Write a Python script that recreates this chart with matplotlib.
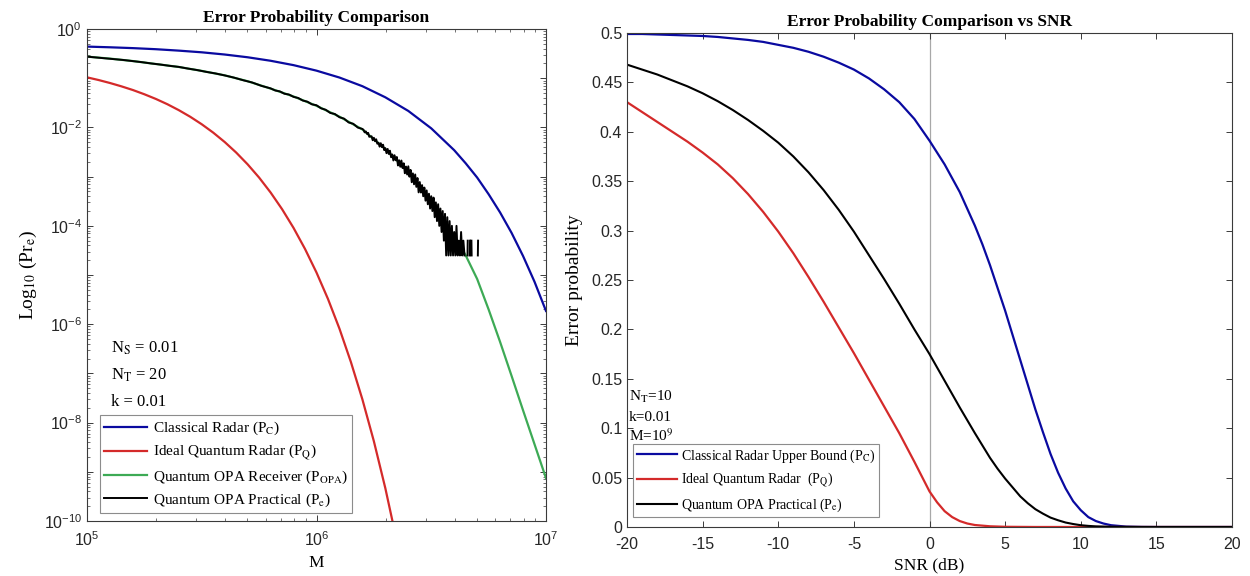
import numpy as np
import matplotlib
matplotlib.use("Agg")
import matplotlib.pyplot as plt
from matplotlib.ticker import LogLocator, NullFormatter, FixedLocator

plt.rcParams['mathtext.fontset'] = 'stix'
plt.rcParams['axes.unicode_minus'] = False
SERIF = 'Liberation Serif'
SANS = 'Liberation Sans'
nan = np.nan

# ---------------- left panel: log10(M) vs log10(P) ----------------
pc_m = [5.0, 5.1, 5.2, 5.3, 5.4, 5.5, 5.6, 5.7, 5.8, 5.9, 6.0, 6.1, 6.2, 6.3,
        6.4, 6.5, 6.6, 6.65, 6.7, 6.75, 6.8, 6.85, 6.9, 6.95, 7.0]
pc_log = [-0.356, -0.370, -0.387, -0.409, -0.438, -0.472, -0.517, -0.573, -0.644,
          -0.733, -0.845, -0.985, -1.161, -1.387, -1.664, -2.018, -2.462, -2.728,
          -3.018, -3.357, -3.728, -4.143, -4.613, -5.137, -5.730]

pq_m = [5.0, 5.05, 5.1, 5.15, 5.2, 5.25, 5.3, 5.35, 5.4, 5.45, 5.5, 5.55, 5.6,
        5.65, 5.7, 5.75, 5.8, 5.85, 5.9, 5.95, 6.0, 6.05, 6.1, 6.15, 6.2, 6.25,
        6.3, 6.35]
pq_log = [-0.981, -1.035, -1.096, -1.164, -1.239, -1.325, -1.420, -1.527, -1.648,
          -1.783, -1.935, -2.105, -2.296, -2.510, -2.750, -3.019, -3.322, -3.661,
          -4.042, -4.470, -4.949, -5.486, -6.090, -6.770, -7.528, -8.379, -9.335,
          -10.41]

popa_m = [5.0, 5.1, 5.2, 5.3, 5.4, 5.5, 5.6, 5.7, 5.8, 5.9, 6.0, 6.1, 6.2, 6.3,
          6.4, 6.5, 6.6, 6.65, 6.7, 6.75, 6.8, 6.85, 6.9, 6.95, 7.0]
popa_log = [-0.56, -0.60, -0.65, -0.71, -0.77, -0.85, -0.94, -1.06, -1.21, -1.37,
            -1.56, -1.78, -2.04, -2.44, -2.90, -3.52, -4.20, -4.60, -5.08, -5.70,
            -6.36, -7.05, -7.75, -8.44, -9.13]

# practical (simulated) curve, noisy; nan = no error counted
pe_m = [5.00, 5.04, 5.08, 5.12, 5.16, 5.20, 5.24, 5.28, 5.32, 5.36, 5.40, 5.44,
        5.48, 5.52, 5.56, 5.60, 5.64, 5.68, 5.72, 5.76, 5.80, 5.82, 5.84, 5.86,
        5.88, 5.90, 5.92, 5.94, 5.96, 5.98, 6.00, 6.02, 6.04, 6.06, 6.08, 6.10,
        6.12, 6.14, 6.16, 6.18, 6.20,
        6.205, 6.210, 6.215, 6.220, 6.225, 6.230, 6.235, 6.240, 6.245, 6.250,
        6.255, 6.260, 6.265, 6.270, 6.275, 6.280, 6.285, 6.290, 6.295, 6.300,
        6.305, 6.310, 6.315, 6.320, 6.325, 6.330, 6.335, 6.340, 6.345, 6.350,
        6.355, 6.360, 6.365, 6.370, 6.375, 6.380, 6.385, 6.390, 6.395, 6.400,
        6.405, 6.410, 6.415, 6.420, 6.425, 6.430, 6.435, 6.440, 6.445, 6.450,
        6.455, 6.460, 6.465, 6.470, 6.475, 6.480, 6.485, 6.490, 6.495, 6.500,
        6.505, 6.510, 6.515, 6.520, 6.525, 6.530, 6.535, 6.540, 6.545, 6.550,
        6.555, 6.560, 6.565, 6.570, 6.575, 6.580, 6.585, 6.590, 6.595, 6.600,
        6.605, 6.610, 6.615, 6.620, 6.625, 6.630, 6.635, 6.640, 6.645, 6.650,
        6.658, 6.659, 6.664, 6.668, 6.669, 6.674, 6.675, 6.676, 6.682,
        6.703, 6.704, 6.710]
pe_log = [-0.560, -0.577, -0.593, -0.611, -0.629, -0.651, -0.673, -0.699, -0.721,
          -0.747, -0.769, -0.803, -0.833, -0.870, -0.902, -0.942, -0.986, -1.039,
          -1.086, -1.154, -1.205, -1.248, -1.266, -1.314, -1.330, -1.378, -1.400,
          -1.452, -1.475, -1.530, -1.548, -1.611, -1.640, -1.705, -1.726, -1.792,
          -1.820, -1.898, -1.925, -2.002, -2.030,
          -2.05, -2.10, -2.08, -2.13, -2.11, -2.19, -2.18, -2.18, -2.26, -2.21,
          -2.28, -2.24, -2.33, -2.31, -2.39, -2.32, -2.40, -2.35, -2.46, -2.42,
          -2.523, -2.436, -2.539, -2.472, -2.605, -2.548, -2.671, -2.564, -2.667,
          -2.600, -2.773, -2.666, -2.799, -2.672, -2.825, -2.728, -2.931, -2.794,
          -2.957, -2.790, -3.001, -2.862, -3.113, -2.934, -3.155, -2.956, -3.207,
          -3.028, -3.319, -3.110,
          -3.323, -3.171, -3.398, -3.222, -3.488, -3.280, -3.561, -3.347, -3.648,
          -3.398, -3.699, -3.426, -3.824, -3.523, -3.903, -3.561, -4.000, -3.648,
          -4.125, -3.699, -4.301, -3.757, -4.602, -3.824, -4.602, -3.903, -4.602,
          -4.000, -4.602, -4.125, -4.602, -4.000, -4.602, -4.301, -4.602, -4.125,
          -4.602, -4.301, -4.602, nan,
          -4.602, -4.301, nan, -4.602, -4.301, nan, -4.301, -4.602, nan,
          -4.602, -4.301, nan]

# ---------------- right panel: error probability vs SNR (dB) ----------------
pc_snr_db = [-20, -19, -18, -17, -16, -15, -14, -13, -12, -11, -10, -9, -8, -7,
             -6, -5, -4, -3, -2, -1, 0, 1, 2, 3, 3.5, 4, 4.5, 5, 5.5, 6, 6.5, 7,
             7.5, 8, 8.5, 9, 9.5, 10, 10.5, 11, 11.5, 12, 13, 14, 15, 16, 17,
             18, 19, 20]
pc_snr = [0.499, 0.499, 0.4985, 0.498, 0.4975, 0.497, 0.496, 0.4945, 0.493,
          0.491, 0.488, 0.485, 0.481, 0.476, 0.470, 0.463, 0.454, 0.443, 0.430,
          0.413, 0.391, 0.367, 0.339, 0.305, 0.286, 0.265, 0.242, 0.219, 0.194,
          0.169, 0.144, 0.119, 0.096, 0.074, 0.055, 0.039, 0.026, 0.017, 0.010,
          0.006, 0.0035, 0.0018, 0.0004, 0.0001, 0, 0, 0, 0, 0, 0]

pq_snr_db = [-20, -19, -18, -17, -16, -15, -14, -13, -12, -11, -10, -9, -8, -7,
             -6, -5, -4, -3, -2, -1, -0.5, 0, 0.5, 1, 1.5, 2, 2.5, 3, 4, 5, 6,
             7, 8, 10, 12, 14, 16, 18, 20]
pq_snr = [0.430, 0.420, 0.410, 0.400, 0.390, 0.379, 0.367, 0.353, 0.337, 0.319,
          0.299, 0.277, 0.253, 0.228, 0.202, 0.176, 0.149, 0.122, 0.095, 0.066,
          0.051, 0.036, 0.025, 0.016, 0.010, 0.006, 0.0035, 0.002, 0.0007,
          0.0002, 0.0001, 0, 0, 0, 0, 0, 0, 0, 0]

pe_snr_db = [-20, -19, -18, -17, -16, -15, -14, -13, -12, -11, -10, -9, -8, -7,
             -6, -5, -4, -3, -2, -1, 0, 1, 2, 3, 4, 4.5, 5, 5.5, 6, 6.5, 7, 7.5,
             8, 8.5, 9, 9.5, 10, 10.5, 11, 12, 13, 14, 16, 18, 20]
pe_snr = [0.468, 0.463, 0.458, 0.452, 0.446, 0.439, 0.431, 0.422, 0.412, 0.401,
          0.389, 0.375, 0.359, 0.341, 0.321, 0.299, 0.275, 0.251, 0.226, 0.200,
          0.175, 0.148, 0.121, 0.095, 0.070, 0.059, 0.049, 0.040, 0.031, 0.024,
          0.018, 0.0135, 0.0095, 0.0068, 0.0045, 0.003, 0.0018, 0.0011, 0.0006,
          0.0002, 0.0001, 0, 0, 0, 0]

BLUE = '#0a0aa0'
RED = '#d42a2a'
GREEN = '#3daa55'
BLACK = '#000000'
AXC = '#3a3a3a'


def style_axes(ax):
    for s in ax.spines.values():
        s.set_color(AXC)
        s.set_linewidth(0.8)
    ax.tick_params(which='both', direction='in', top=True, right=True,
                   colors=AXC, labelcolor='#262626', labelsize=11.5)
    ax.tick_params(which='major', length=4.5, width=0.7)
    ax.tick_params(which='minor', length=2.5, width=0.5)
    ax.tick_params(axis='x', which='both', pad=7)
    for lab in ax.get_xticklabels() + ax.get_yticklabels():
        lab.set_fontfamily(SANS)


fig = plt.figure(figsize=(12.5, 5.76), dpi=100)
ax1 = fig.add_axes([0.0696, 0.0955, 0.3672, 0.854])
ax2 = fig.add_axes([0.5016, 0.0851, 0.484, 0.8576])

# ---- left ----
ax1.plot(10 ** np.array(pc_m), 10 ** np.array(pc_log), color=BLUE, lw=1.6,
         label='Classical Radar (P$_{\\mathrm{C}}$)')
ax1.plot(10 ** np.array(pq_m), 10 ** np.array(pq_log), color=RED, lw=1.6,
         label='Ideal Quantum Radar (P$_{\\mathrm{Q}}$)')
ax1.plot(10 ** np.array(popa_m), 10 ** np.array(popa_log), color=GREEN, lw=1.6,
         label='Quantum OPA Receiver (P$_{\\mathrm{OPA}}$)')
ax1.plot(10 ** np.array(pe_m), 10 ** np.array(pe_log), color=BLACK, lw=1.4,
         label='Quantum OPA Practical (P$_{\\mathrm{e}}$)')
ax1.set_xscale('log')
ax1.set_yscale('log')
ax1.set_xlim(1e5, 1e7)
ax1.set_ylim(1e-10, 1)
ax1.set_xticks([1e5, 1e6, 1e7])
ax1.set_xticklabels([r'$\mathdefault{10^{5}}$', r'$\mathdefault{10^{6}}$',
                     r'$\mathdefault{10^{7}}$'])
ax1.xaxis.set_minor_locator(LogLocator(base=10, subs=np.arange(2, 10)))
ax1.xaxis.set_minor_formatter(NullFormatter())
ydec = [10.0 ** (-k) for k in range(0, 11)]
ax1.yaxis.set_major_locator(FixedLocator(ydec))
ax1.set_yticklabels([r'$\mathdefault{10^{%d}}$' % (-k) if k % 2 == 0 else ''
                     for k in range(0, 11)])
ax1.yaxis.set_minor_locator(LogLocator(base=10, subs=np.arange(2, 10), numticks=20))
ax1.yaxis.set_minor_formatter(NullFormatter())
style_axes(ax1)
ax1.set_title('Error Probability Comparison', fontfamily=SERIF,
              fontweight='bold', fontsize=12.5, pad=5)
ax1.set_xlabel('M', fontfamily=SERIF, fontsize=12.5, labelpad=4)
ax1.set_ylabel('Log$_{10}$ (Pr$_{\\mathrm{e}}$)', fontfamily=SERIF,
               fontsize=14, labelpad=3)

for txt, yy in [('N$_{\\mathrm{S}}$ = 0.01', 0.352),
                ('N$_{\\mathrm{T}}$ = 20', 0.297),
                ('k = 0.01', 0.242)]:
    ax1.text(0.052, yy, txt, transform=ax1.transAxes, fontfamily=SERIF,
             fontsize=12, va='center', ha='left')

leg1 = ax1.legend(loc='lower left', bbox_to_anchor=(0.028, 0.016),
                  borderaxespad=0, prop={'family': SERIF, 'size': 11},
                  fancybox=False, edgecolor='#8c8c8c', framealpha=1,
                  handlelength=2.8, handletextpad=0.35, labelspacing=0.36,
                  borderpad=0.3)
leg1.get_frame().set_linewidth(0.8)

# ---- right ----
ax2.axvline(0, color='#a8a8a8', lw=0.9, zorder=1)
ax2.plot(pc_snr_db, pc_snr, color=BLUE, lw=1.6,
         label='Classical Radar Upper Bound (P$_{\\mathrm{C}}$)')
ax2.plot(pq_snr_db, pq_snr, color=RED, lw=1.6,
         label='Ideal Quantum Radar  (P$_{\\mathrm{Q}}$)')
ax2.plot(pe_snr_db, pe_snr, color=BLACK, lw=1.5,
         label='Quantum OPA Practical (P$_{\\mathrm{e}}$)')
ax2.set_xlim(-20, 20)
ax2.set_ylim(0, 0.5)
ax2.set_xticks(range(-20, 21, 5))
yt = np.round(np.arange(0, 0.501, 0.05), 2)
ax2.set_yticks(yt)
ax2.set_yticklabels(['%g' % v for v in yt])
style_axes(ax2)
ax2.set_title('Error Probability Comparison vs SNR', fontfamily=SERIF,
              fontweight='bold', fontsize=12.5, pad=5)
ax2.set_xlabel('SNR (dB)', fontfamily=SERIF, fontsize=12.5, labelpad=4)
ax2.set_ylabel('Error probability', fontfamily=SERIF, fontsize=14, labelpad=6)

for txt, yy in [('N$_{\\mathrm{T}}$=10', 0.263),
                ('k=0.01', 0.221),
                ('M=10$^{9}$', 0.184)]:
    ax2.text(0.003, yy, txt, transform=ax2.transAxes, fontfamily=SERIF,
             fontsize=11, va='center', ha='left')

leg2 = ax2.legend(loc='lower left', bbox_to_anchor=(0.01, 0.02),
                  borderaxespad=0, prop={'family': SERIF, 'size': 10},
                  fancybox=False, edgecolor='#8c8c8c', framealpha=1,
                  handlelength=2.9, handletextpad=0.3, labelspacing=0.43,
                  borderpad=0.25)
leg2.get_frame().set_linewidth(0.8)

fig.savefig('out.png', dpi=100)
